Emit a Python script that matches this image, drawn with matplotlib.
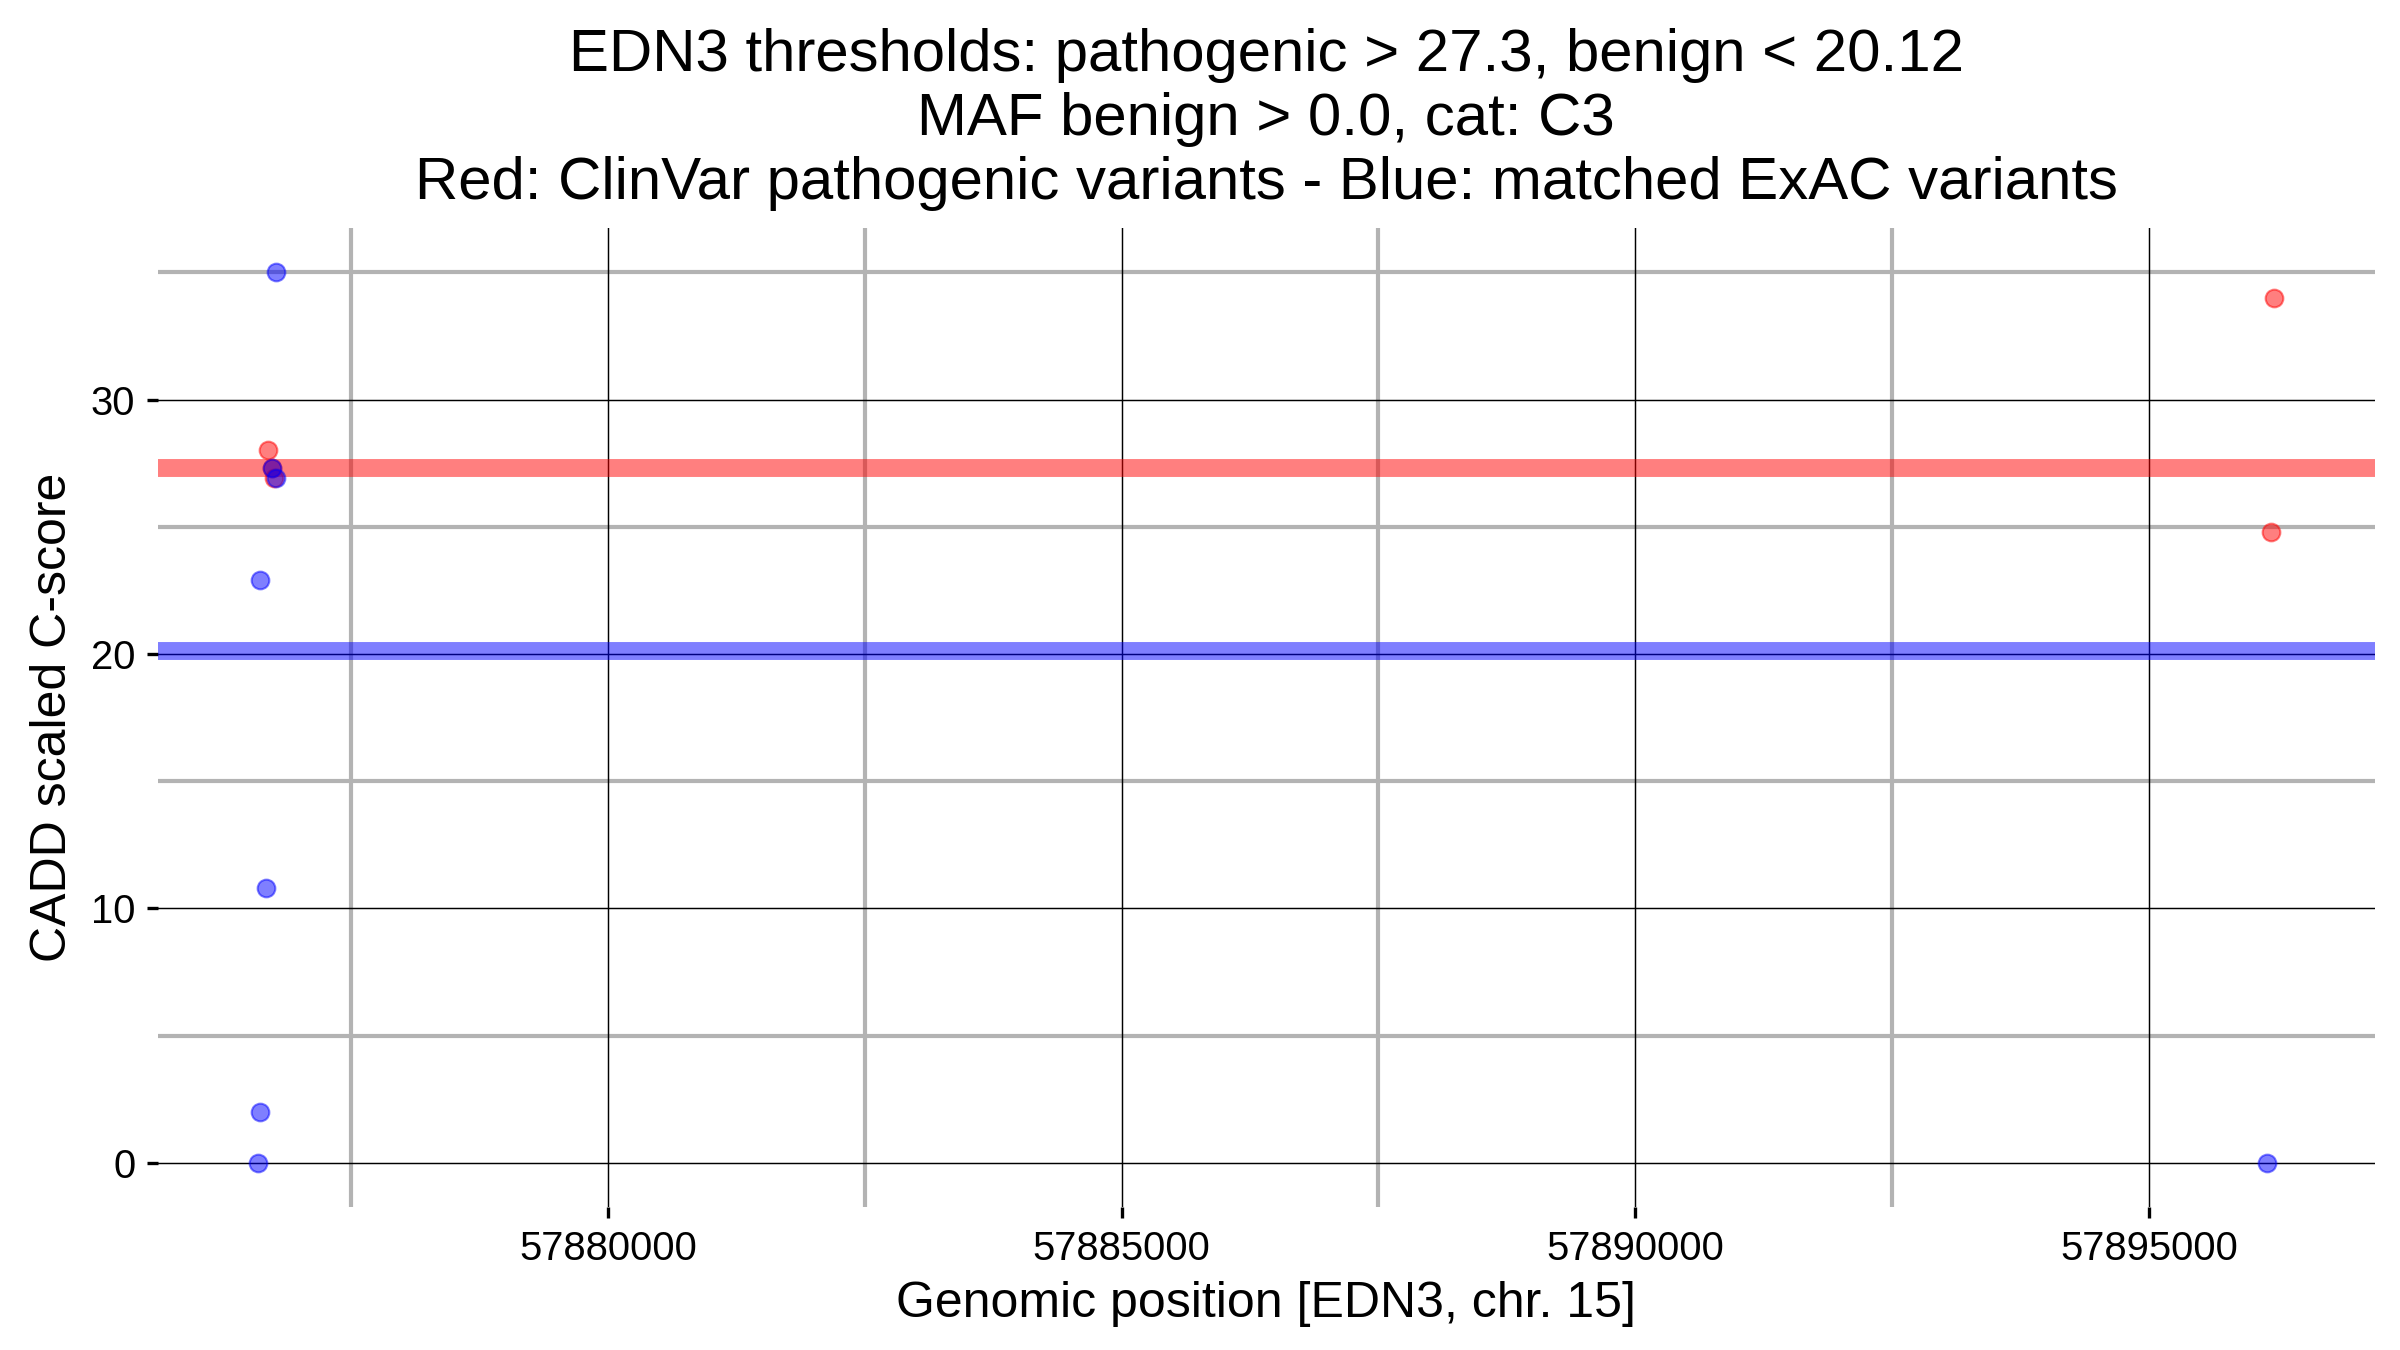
import matplotlib
matplotlib.use("Agg")
import matplotlib.pyplot as plt
import numpy as np

# Data
red_pos = [57876695, 57876734, 57876753, 57896219, 57896184]
red_score = [28.0, 27.3, 26.9, 34.0, 24.8]
blue_pos = [57876773, 57876617, 57876676, 57876617, 57876598, 57876734, 57876773, 57896152]
blue_score = [35.0, 22.9, 10.8, 2.0, 0.0, 27.3, 26.9, 0.0]
thr_pathogenic = 27.3
thr_benign = 20.12
x_major = [57880000, 57885000, 57890000, 57895000]
x_minor = [57877500, 57882500, 57887500, 57892500]
y_major = [0, 10, 20, 30]
y_minor = [5, 15, 25, 35]

title = ("EDN3 thresholds: pathogenic > 27.3, benign < 20.12\n"
         "MAF benign > 0.0, cat: C3\n"
         "Red: ClinVar pathogenic variants - Blue: matched ExAC variants")

plt.rcParams['font.family'] = ['Liberation Sans', 'DejaVu Sans']

fig = plt.figure(figsize=(8, 4.5), dpi=300)
ax = fig.add_axes([0.0657, 0.1056, 0.9896 - 0.0657, 0.8313 - 0.1056])

allx = red_pos + blue_pos
ally = red_score + blue_score
xr = max(allx) - min(allx)
yr = max(ally) - min(ally)
ax.set_xlim(min(allx) - 0.05 * xr, max(allx) + 0.05 * xr)
ax.set_ylim(min(ally) - 0.05 * yr, max(ally) + 0.05 * yr)

for v in x_minor:
    ax.axvline(v, color='#b3b3b3', lw=1.0, zorder=1)
for v in y_minor:
    ax.axhline(v, color='#b3b3b3', lw=1.0, zorder=1)
for v in x_major:
    ax.axvline(v, color='black', lw=0.35, zorder=2)
for v in y_major:
    ax.axhline(v, color='black', lw=0.35, zorder=2)

ax.axhline(thr_pathogenic, color='red', alpha=0.5, lw=4.3, zorder=3)
ax.axhline(thr_benign, color='blue', alpha=0.5, lw=4.3, zorder=3)

ax.scatter(red_pos, red_score, s=18, c='red', alpha=0.5, edgecolors='red', linewidths=0.5, zorder=4)
ax.scatter(blue_pos, blue_score, s=18, c='blue', alpha=0.5, edgecolors='blue', linewidths=0.5, zorder=4)

ax.set_xticks(x_major)
ax.set_xticklabels([str(v) for v in x_major])
ax.set_yticks(y_major)
ax.set_yticklabels([str(v) for v in y_major])
ax.tick_params(axis='both', length=2.75, width=0.8, color='black', labelsize=9.6, pad=2.6)

for s in ax.spines.values():
    s.set_visible(False)

ax.set_xlabel("Genomic position [EDN3, chr. 15]", fontsize=12, labelpad=3.1)
ax.set_ylabel("CADD scaled C-score", fontsize=12, labelpad=3.6)
ax.set_title(title, fontsize=14.4, linespacing=1.2, pad=7.0)

fig.savefig("out.png", dpi=300, facecolor='white')
